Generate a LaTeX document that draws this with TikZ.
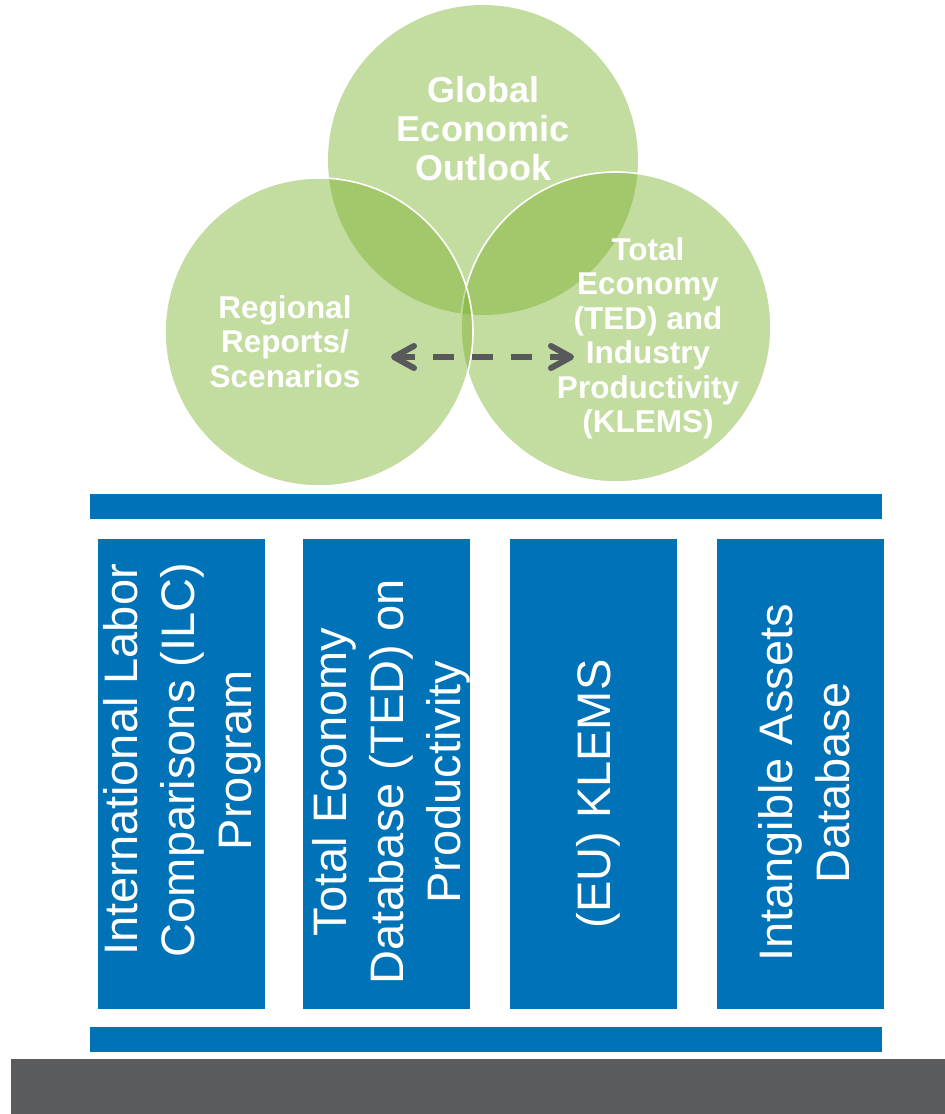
\documentclass[tikz,border=0pt]{standalone}
\usepackage{fontspec}
\setmainfont{Liberation Sans}
\definecolor{pblue}{RGB}{0,114,183}
\definecolor{pgray}{RGB}{90,91,93}
\definecolor{agray}{RGB}{88,89,91}
\definecolor{vgreen}{RGB}{119,175,39}
\begin{document}
\begin{tikzpicture}[x=1pt,y=-1pt,
  venn/.style={fill=vgreen,fill opacity=0.44},
  vennline/.style={draw=white,line width=1.6pt},
  ctext/.style={text=white,font=\bfseries,align=center,inner sep=0pt,anchor=north},
  coltext/.style={text=white,font=\fontsize{47}{57}\selectfont,align=center,inner sep=0pt,anchor=north,rotate=90},
  dasharrow/.style={draw=agray,line width=6pt,line cap=butt,dash pattern=on 21pt off 18pt},
  chev/.style={draw=agray,line width=6pt,line cap=round,line join=round}]
\useasboundingbox (0,0) rectangle (945,1114);
% Venn circles
\fill[venn] (483,160) circle[radius=155pt];
\path[venn,vennline] (616,327) circle[radius=155pt];
\path[venn,vennline] (319,332) circle[radius=154pt];
% circle labels
\node[ctext,font=\bfseries\fontsize{36}{39}\selectfont] (geo) at (483,76) {Global\\Economic\\Outlook};
\node[ctext,font=\bfseries\fontsize{31.5}{34.4}\selectfont] (reg) at (285,295.4) {Regional\\Reports/\\Scenarios};
\node[ctext,font=\bfseries\fontsize{31.5}{34.4}\selectfont] (ted) at (648,237.4) {Total\\Economy\\(TED) and\\Industry\\Productivity\\(KLEMS)};
% dashed double arrow
\coordinate (al) at (394,357);
\coordinate (ar) at (571,357);
\draw[dasharrow] (al) -- (ar);
\draw[chev] ([shift={(20,-11)}]al) -- (al) -- ([shift={(20,11)}]al);
\draw[chev] ([shift={(-20,-11)}]ar) -- (ar) -- ([shift={(-20,11)}]ar);
% bars and columns
\fill[pblue] (90,494) rectangle (882,519);
\fill[pblue] (98,539) rectangle (265,1009);
\fill[pblue] (303,539) rectangle (470,1009);
\fill[pblue] (510,539) rectangle (677,1009);
\fill[pblue] (717,539) rectangle (884,1009);
\fill[pblue] (90,1027) rectangle (882,1052);
\fill[pgray] (11,1059) rectangle (945,1114);
% column labels
\node[coltext] (ilc) at (103,760) {International Labor\\Comparisons (ILC)\\Program};
\node[coltext] (tedp) at (312,782) {Total Economy\\Database (TED) on\\Productivity};
\node[coltext] (klems) at (576,794) {(EU) KLEMS};
\node[coltext] (intang) at (758,783) {Intangible Assets\\Database};
\end{tikzpicture}
\end{document}
